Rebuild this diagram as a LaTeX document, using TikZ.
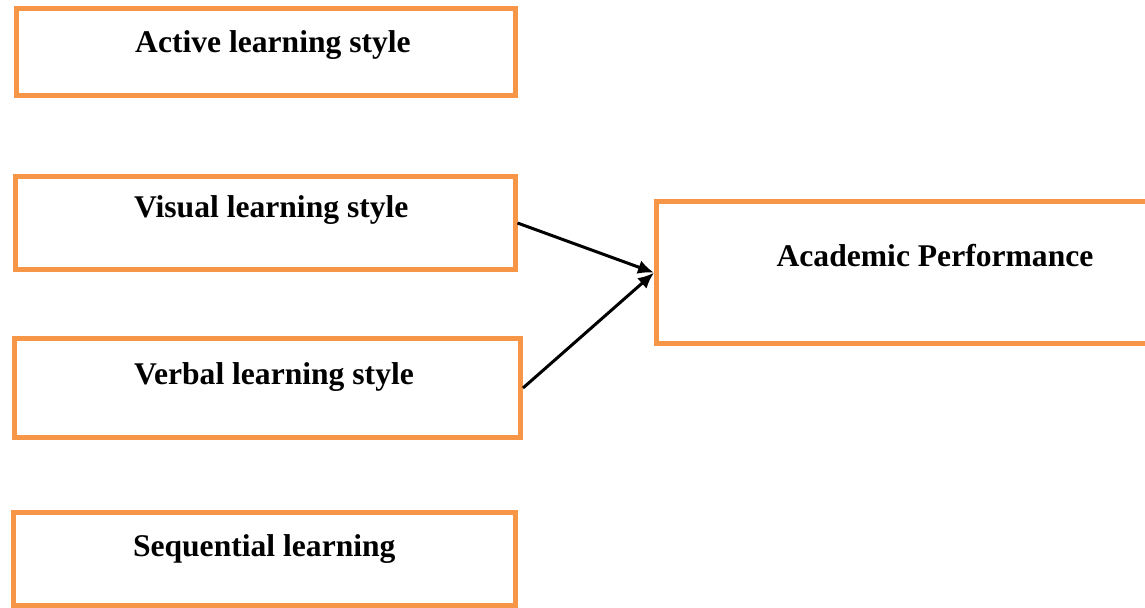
\documentclass[tikz,border=0pt]{standalone}
\usepackage{fontspec}
\setmainfont{Liberation Serif}
\usepackage{tikz}
\usetikzlibrary{arrows.meta}
\usepackage{xcolor}
\definecolor{boxorange}{HTML}{F79646}

\begin{document}
\begin{tikzpicture}[
        x=0.5pt, y=-0.5pt,
        stylebox/.style={rectangle,draw=boxorange,line width=2.5pt,inner sep=0pt,
            font=\fontsize{15.8}{19}\selectfont\bfseries,text height=11pt,text depth=14.5pt},
        pushright/.style={execute at begin node=\hspace*{#1}},
        arrow/.style={-{Latex[length=8pt,width=7pt]},line width=1.5pt},
        ]
        \useasboundingbox (0,0) rectangle (1145,608);

        % Styles d'apprentissage
        \node[stylebox,pushright=7pt,minimum width=249.25pt,minimum height=43.5pt,text depth=10.5pt] (active) at (266,52) {Active learning style};
        \node[stylebox,pushright=6pt,minimum width=249.75pt,minimum height=46.5pt,text depth=16.5pt] (visual) at (265.25,223) {Visual learning style};
        \node[stylebox,pushright=6.5pt,minimum width=253pt,minimum height=49.5pt] (verbal) at (267.5,388) {Verbal learning style};
        \node[stylebox,minimum width=250.75pt,minimum height=46pt,text depth=13.5pt] (sequential) at (264.25,559) {Sequential learning};

        % Performance
        \node[stylebox,minimum width=278.5pt,minimum height=71.25pt,text depth=17pt] (performance) at (935,272.75) {Academic Performance};

        % Connexions
        \draw[arrow] (visual.east) -- (performance.west);
        \draw[arrow] (verbal.east) -- (performance.west);
    \end{tikzpicture}
\end{document}
